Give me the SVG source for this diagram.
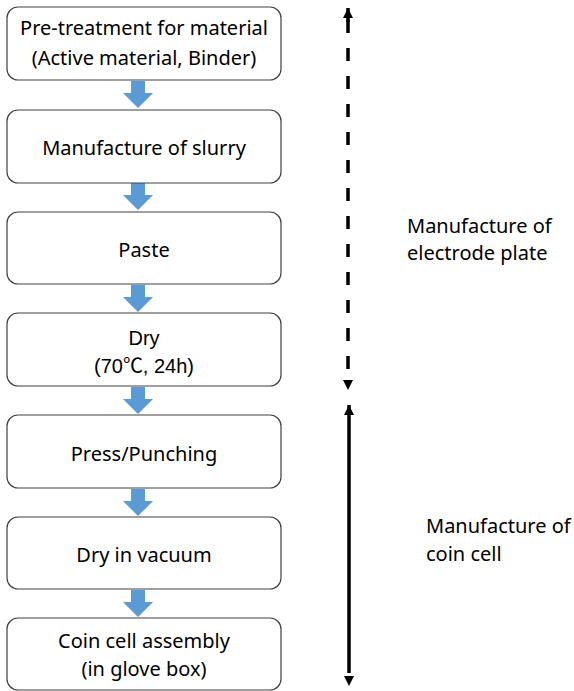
<svg xmlns="http://www.w3.org/2000/svg" width="574" height="691" viewBox="0 0 574 691">
<style>
.box{fill:#fff;stroke:#404040;stroke-width:1.2}
.t{font-family:"Noto Sans","Noto Sans CJK KR",sans-serif;font-size:20px;fill:#000;text-anchor:middle}
.ta{font-family:"Liberation Sans","Noto Sans CJK KR",sans-serif;font-size:20px;fill:#000;text-anchor:middle}
.lbl{font-family:"Noto Sans","Noto Sans CJK KR",sans-serif;font-size:20px;fill:#000}
.flow{fill:#5B9BD5}
.span{stroke:#000;stroke-width:3.5;fill:none}
</style>
<defs>
<marker id="ah" viewBox="0 0 10 10" refX="10" refY="5" markerWidth="10" markerHeight="10" markerUnits="userSpaceOnUse" orient="auto">
<path d="M0,0 L10,5 L0,10 Z" fill="#000"/>
</marker>
<path id="blue" d="M-7,0 H7 V12 H15 L0,27 L-15,12 H-7 Z"/>
</defs>
<g id="connectors">
<use href="#blue" class="flow" x="138" y="81"/>
<use href="#blue" class="flow" x="138" y="183"/>
<use href="#blue" class="flow" x="138" y="285"/>
<use href="#blue" class="flow" x="138" y="387"/>
<use href="#blue" class="flow" x="138" y="489"/>
<use href="#blue" class="flow" x="138" y="590"/>
<line class="span" x1="348" y1="20" x2="348" y2="380" stroke-dasharray="13 15"/>
<line x1="348" y1="22" x2="348" y2="8" stroke="#000" stroke-width="3.5" marker-end="url(#ah)"/>
<line x1="348" y1="378" x2="348" y2="390" stroke="none" marker-end="url(#ah)"/>
<line class="span" x1="349" y1="673" x2="349" y2="405" marker-end="url(#ah)"/>
<line x1="349" y1="672" x2="349" y2="686" stroke="none" marker-end="url(#ah)"/>
</g>
<g id="n1"><rect class="box" x="7" y="7" width="274" height="73" rx="11"/>
<text class="t" x="144" y="35">Pre-treatment for material</text>
<text class="t" x="144" y="65">(Active material, Binder)</text></g>
<g id="n2"><rect class="box" x="7" y="110" width="274" height="73" rx="11"/>
<text class="t" x="144" y="155">Manufacture of slurry</text></g>
<g id="n3"><rect class="box" x="7" y="212" width="274" height="72" rx="11"/>
<text class="t" x="144" y="257">Paste</text></g>
<g id="n4"><rect class="box" x="7" y="313" width="274" height="73" rx="11"/>
<text class="ta" x="144" y="345">Dry</text>
<text class="ta" x="144" y="373">(70℃, 24h)</text></g>
<g id="n5"><rect class="box" x="7" y="415" width="274" height="73" rx="11"/>
<text class="t" x="144" y="461">Press/Punching</text></g>
<g id="n6"><rect class="box" x="7" y="517" width="274" height="72" rx="11"/>
<text class="t" x="144" y="562">Dry in vacuum</text></g>
<g id="n7"><rect class="box" x="7" y="618" width="274" height="72" rx="11"/>
<text class="t" x="144" y="648">Coin cell assembly</text>
<text class="t" x="144" y="676">(in glove box)</text></g>
<g id="label1"><text class="lbl" x="407" y="233">Manufacture of</text>
<text class="lbl" x="407" y="260">electrode plate</text></g>
<g id="label2"><text class="lbl" x="426" y="533">Manufacture of</text>
<text class="lbl" x="426" y="561">coin cell</text></g>
</svg>
